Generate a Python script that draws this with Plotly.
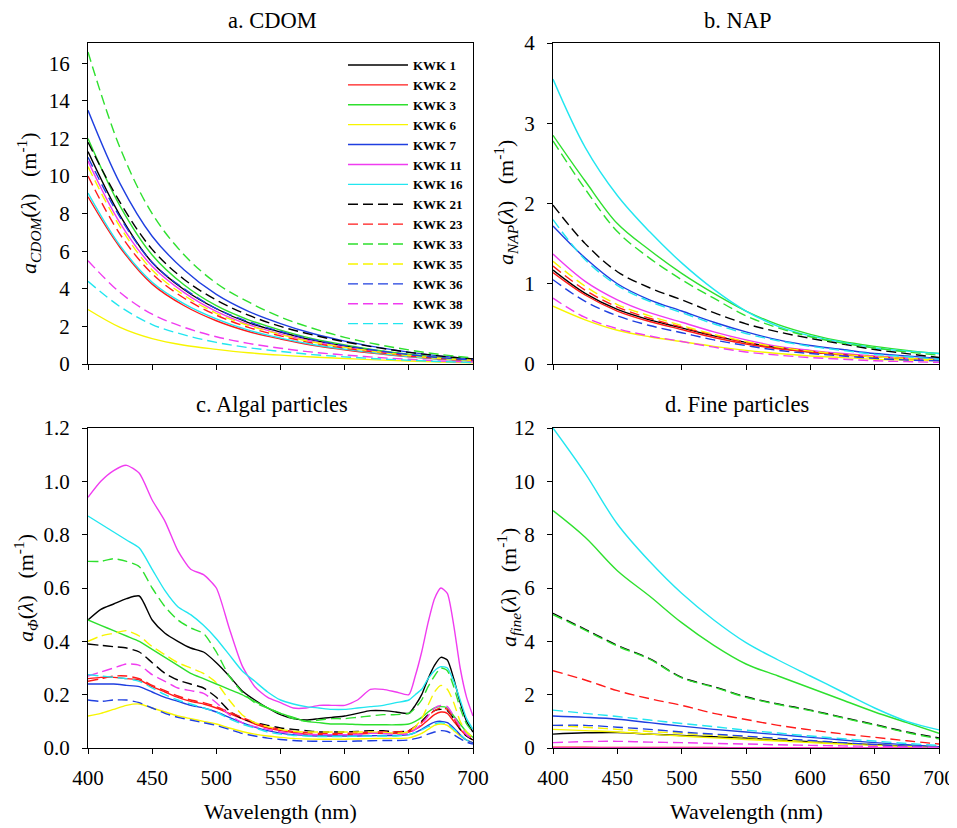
import plotly.graph_objects as go

# ---------------- data ----------------
STATIONS = ["KWK 1", "KWK 2", "KWK 3", "KWK 6", "KWK 7", "KWK 11", "KWK 16",
            "KWK 21", "KWK 23", "KWK 33", "KWK 35", "KWK 36", "KWK 38", "KWK 39"]
COLORS = ["#000000", "#ff1a1a", "#2ee02e", "#f7f500", "#1f3fe0", "#f03cf0", "#22e6f0"] * 2
DASHES = ["solid"] * 7 + ["dash"] * 7

WL = [400, 425, 450, 475, 500, 525, 550, 575, 600, 625, 650, 675, 700]
WL_ALGAL = [400, 410, 420, 430, 440, 450, 460, 470, 480, 490, 500, 510, 520, 530, 540,
            550, 560, 570, 580, 590, 600, 610, 620, 630, 640, 650, 655, 660, 665, 670,
            675, 680, 685, 690, 695, 700]

# a. CDOM absorption (m-1)
cdom = [
    [11.3, 7.9, 5.4, 3.95, 2.94, 2.2, 1.7, 1.27, 0.96, 0.70, 0.49, 0.32, 0.20],
    [8.9, 6.2, 4.25, 3.1, 2.3, 1.73, 1.33, 1.0, 0.76, 0.55, 0.38, 0.25, 0.16],
    [12.0, 8.4, 5.8, 4.2, 3.1, 2.35, 1.8, 1.35, 1.02, 0.74, 0.52, 0.34, 0.22],
    [2.9, 1.95, 1.35, 1.0, 0.78, 0.6, 0.47, 0.37, 0.29, 0.22, 0.16, 0.11, 0.07],
    [13.5, 9.6, 6.8, 5.0, 3.7, 2.8, 2.15, 1.62, 1.22, 0.9, 0.63, 0.42, 0.27],
    [10.8, 7.5, 5.2, 3.8, 2.8, 2.1, 1.6, 1.2, 0.9, 0.66, 0.46, 0.3, 0.19],
    [9.1, 6.3, 4.35, 3.2, 2.4, 1.8, 1.38, 1.04, 0.79, 0.58, 0.4, 0.26, 0.17],
    [11.8, 8.6, 6.1, 4.5, 3.4, 2.6, 2.0, 1.55, 1.18, 0.88, 0.62, 0.42, 0.27],
    [10.0, 6.9, 4.8, 3.5, 2.6, 1.95, 1.5, 1.12, 0.85, 0.62, 0.43, 0.28, 0.18],
    [16.6, 11.5, 8.0, 5.8, 4.3, 3.3, 2.5, 1.9, 1.42, 1.05, 0.75, 0.5, 0.32],
    [10.5, 7.3, 5.0, 3.65, 2.7, 2.05, 1.57, 1.17, 0.89, 0.65, 0.45, 0.29, 0.19],
    [11.0, 7.8, 5.4, 4.0, 2.95, 2.25, 1.73, 1.3, 0.98, 0.72, 0.5, 0.33, 0.21],
    [5.5, 3.8, 2.65, 1.95, 1.45, 1.1, 0.84, 0.63, 0.48, 0.35, 0.25, 0.16, 0.1],
    [4.4, 3.05, 2.1, 1.55, 1.15, 0.87, 0.67, 0.5, 0.38, 0.28, 0.2, 0.13, 0.08],
]

# b. NAP absorption (m-1)
nap = [
    [1.17, 0.88, 0.68, 0.55, 0.45, 0.35, 0.27, 0.2, 0.15, 0.12, 0.09, 0.07, 0.05],
    [1.14, 0.86, 0.66, 0.53, 0.43, 0.33, 0.25, 0.19, 0.15, 0.11, 0.09, 0.07, 0.05],
    [2.85, 2.28, 1.75, 1.42, 1.13, 0.88, 0.66, 0.49, 0.37, 0.28, 0.22, 0.17, 0.13],
    [0.72, 0.55, 0.42, 0.34, 0.28, 0.22, 0.17, 0.13, 0.1, 0.08, 0.06, 0.05, 0.04],
    [1.72, 1.32, 1.0, 0.8, 0.66, 0.52, 0.4, 0.3, 0.23, 0.18, 0.13, 0.1, 0.07],
    [1.37, 1.03, 0.8, 0.64, 0.52, 0.4, 0.3, 0.22, 0.17, 0.13, 0.1, 0.07, 0.05],
    [3.55, 2.7, 2.1, 1.65, 1.26, 0.93, 0.66, 0.47, 0.35, 0.27, 0.2, 0.16, 0.13],
    [1.98, 1.5, 1.15, 0.95, 0.8, 0.64, 0.5, 0.4, 0.32, 0.25, 0.18, 0.13, 0.08],
    [1.22, 0.92, 0.71, 0.57, 0.46, 0.36, 0.27, 0.21, 0.16, 0.12, 0.09, 0.07, 0.05],
    [2.78, 2.18, 1.65, 1.32, 1.05, 0.82, 0.6, 0.45, 0.34, 0.26, 0.2, 0.15, 0.11],
    [1.28, 0.97, 0.74, 0.6, 0.48, 0.37, 0.28, 0.21, 0.16, 0.12, 0.09, 0.07, 0.05],
    [1.05, 0.78, 0.6, 0.48, 0.39, 0.3, 0.23, 0.17, 0.13, 0.1, 0.07, 0.05, 0.04],
    [0.82, 0.58, 0.44, 0.35, 0.28, 0.21, 0.15, 0.11, 0.08, 0.06, 0.04, 0.03, 0.02],
    [1.8, 1.3, 0.98, 0.78, 0.64, 0.5, 0.38, 0.29, 0.22, 0.17, 0.12, 0.09, 0.06],
]

# c. Algal particle absorption (m-1)
algal = [
    [0.48, 0.52, 0.54, 0.56, 0.57, 0.48, 0.43, 0.40, 0.375, 0.36, 0.32, 0.27, 0.215, 0.18, 0.15,
     0.125, 0.11, 0.105, 0.11, 0.115, 0.12, 0.13, 0.14, 0.14, 0.135, 0.13, 0.16, 0.2, 0.26, 0.31,
     0.34, 0.33, 0.26, 0.17, 0.1, 0.06],
    [0.26, 0.265, 0.265, 0.26, 0.255, 0.23, 0.21, 0.19, 0.175, 0.165, 0.15, 0.13, 0.11, 0.09, 0.075,
     0.065, 0.058, 0.052, 0.05, 0.05, 0.05, 0.052, 0.055, 0.055, 0.055, 0.06, 0.07, 0.085, 0.105, 0.125,
     0.135, 0.13, 0.1, 0.07, 0.045, 0.03],
    [0.48, 0.46, 0.44, 0.42, 0.40, 0.37, 0.34, 0.31, 0.28, 0.26, 0.24, 0.22, 0.2, 0.175, 0.15,
     0.13, 0.115, 0.1, 0.095, 0.09, 0.09, 0.088, 0.087, 0.087, 0.087, 0.09, 0.1, 0.115, 0.135, 0.15,
     0.155, 0.15, 0.12, 0.09, 0.06, 0.04],
    [0.12, 0.13, 0.145, 0.16, 0.165, 0.15, 0.135, 0.12, 0.11, 0.1, 0.09, 0.075, 0.062, 0.052, 0.045,
     0.04, 0.036, 0.034, 0.033, 0.033, 0.033, 0.034, 0.035, 0.036, 0.036, 0.038, 0.045, 0.055, 0.07, 0.085,
     0.09, 0.085, 0.065, 0.045, 0.03, 0.02],
    [0.24, 0.24, 0.24, 0.235, 0.23, 0.21, 0.19, 0.175, 0.16, 0.15, 0.135, 0.115, 0.095, 0.078, 0.065,
     0.056, 0.05, 0.047, 0.045, 0.045, 0.045, 0.045, 0.046, 0.047, 0.047, 0.05, 0.058, 0.07, 0.085, 0.097,
     0.1, 0.095, 0.075, 0.05, 0.03, 0.02],
    [0.94, 1.0, 1.04, 1.06, 1.03, 0.93, 0.85, 0.74, 0.67, 0.65, 0.6, 0.45, 0.31, 0.23, 0.19,
     0.17, 0.15, 0.15, 0.16, 0.16, 0.16, 0.18, 0.22, 0.22, 0.21, 0.2, 0.27, 0.36, 0.47, 0.56,
     0.6, 0.58, 0.46, 0.3, 0.19, 0.12],
    [0.87, 0.84, 0.81, 0.78, 0.75, 0.67, 0.59, 0.53, 0.5, 0.46, 0.41, 0.35, 0.29, 0.25, 0.21,
     0.18, 0.165, 0.155, 0.15, 0.145, 0.145, 0.15, 0.155, 0.16, 0.17, 0.18, 0.2, 0.22, 0.26, 0.29,
     0.305, 0.3, 0.25, 0.18, 0.11, 0.07],
    [0.39, 0.385, 0.38, 0.375, 0.36, 0.32, 0.28, 0.255, 0.24, 0.225, 0.19, 0.14, 0.11, 0.095, 0.085,
     0.075, 0.07, 0.065, 0.06, 0.06, 0.06, 0.062, 0.065, 0.065, 0.06, 0.065, 0.08, 0.1, 0.125, 0.14,
     0.145, 0.14, 0.11, 0.07, 0.045, 0.03],
    [0.25, 0.26, 0.27, 0.27, 0.26, 0.235, 0.215, 0.195, 0.18, 0.17, 0.155, 0.135, 0.115, 0.095, 0.08,
     0.07, 0.062, 0.058, 0.055, 0.055, 0.055, 0.057, 0.06, 0.06, 0.06, 0.065, 0.08, 0.095, 0.12, 0.14,
     0.15, 0.145, 0.11, 0.075, 0.05, 0.035],
    [0.70, 0.70, 0.71, 0.70, 0.68, 0.6, 0.53, 0.48, 0.45, 0.43, 0.36, 0.27, 0.21, 0.17, 0.15,
     0.13, 0.11, 0.1, 0.105, 0.11, 0.11, 0.115, 0.12, 0.125, 0.125, 0.13, 0.15, 0.18, 0.23, 0.27,
     0.3, 0.29, 0.23, 0.15, 0.09, 0.06],
    [0.40, 0.42, 0.43, 0.44, 0.42, 0.38, 0.35, 0.32, 0.3, 0.28, 0.245, 0.18, 0.125, 0.095, 0.08,
     0.07, 0.063, 0.06, 0.06, 0.06, 0.06, 0.06, 0.06, 0.058, 0.055, 0.06, 0.08, 0.11, 0.16, 0.21,
     0.235, 0.22, 0.17, 0.1, 0.06, 0.04],
    [0.18, 0.175, 0.18, 0.18, 0.17, 0.15, 0.13, 0.115, 0.105, 0.095, 0.085, 0.07, 0.055, 0.045, 0.037,
     0.032, 0.028, 0.026, 0.025, 0.025, 0.025, 0.026, 0.027, 0.028, 0.028, 0.03, 0.035, 0.042, 0.052, 0.06,
     0.065, 0.062, 0.05, 0.035, 0.022, 0.015],
    [0.27, 0.285, 0.3, 0.315, 0.31, 0.275, 0.25, 0.225, 0.215, 0.205, 0.17, 0.125, 0.095, 0.08, 0.07,
     0.06, 0.055, 0.05, 0.05, 0.05, 0.05, 0.05, 0.055, 0.055, 0.05, 0.055, 0.07, 0.09, 0.12, 0.15,
     0.16, 0.155, 0.12, 0.08, 0.05, 0.03],
    [0.275, 0.27, 0.265, 0.26, 0.25, 0.225, 0.2, 0.18, 0.165, 0.15, 0.135, 0.11, 0.09, 0.075, 0.06,
     0.052, 0.047, 0.045, 0.043, 0.043, 0.043, 0.044, 0.045, 0.045, 0.045, 0.05, 0.058, 0.068, 0.08, 0.09,
     0.095, 0.09, 0.07, 0.05, 0.03, 0.02],
]

# d. Fine particle absorption (m-1)
fine = [
    [0.52, 0.57, 0.58, 0.52, 0.47, 0.42, 0.37, 0.3, 0.24, 0.18, 0.12, 0.07, 0.03],
    [0.03, 0.03, 0.02, 0.02, 0.02, 0.02, 0.01, 0.01, 0.01, 0.01, 0.0, 0.0, 0.0],
    [8.9, 7.9, 6.65, 5.7, 4.7, 3.85, 3.15, 2.7, 2.25, 1.8, 1.35, 0.95, 0.55],
    [0.7, 0.65, 0.6, 0.52, 0.45, 0.38, 0.32, 0.26, 0.2, 0.15, 0.1, 0.06, 0.03],
    [1.2, 1.15, 1.08, 0.95, 0.82, 0.7, 0.6, 0.5, 0.4, 0.3, 0.2, 0.12, 0.05],
    [0.0, 0.0, 0.0, 0.0, 0.0, 0.0, 0.0, 0.0, 0.0, 0.0, 0.0, 0.0, 0.0],
    [12.0, 10.3, 8.4, 7.0, 5.8, 4.8, 3.95, 3.3, 2.7, 2.1, 1.5, 1.0, 0.68],
    [5.05, 4.45, 3.85, 3.35, 2.65, 2.3, 1.92, 1.65, 1.42, 1.15, 0.88, 0.6, 0.38],
    [2.9, 2.55, 2.15, 1.85, 1.6, 1.3, 1.07, 0.85, 0.68, 0.53, 0.4, 0.27, 0.15],
    [5.0, 4.42, 3.82, 3.33, 2.63, 2.28, 1.9, 1.63, 1.4, 1.13, 0.86, 0.58, 0.34],
    [0.85, 0.78, 0.7, 0.62, 0.55, 0.47, 0.4, 0.32, 0.25, 0.18, 0.12, 0.07, 0.03],
    [0.85, 0.85, 0.78, 0.7, 0.6, 0.52, 0.44, 0.36, 0.28, 0.2, 0.13, 0.07, 0.03],
    [0.2, 0.24, 0.25, 0.22, 0.2, 0.17, 0.15, 0.12, 0.1, 0.08, 0.06, 0.04, 0.02],
    [1.42, 1.3, 1.18, 1.05, 0.92, 0.8, 0.67, 0.56, 0.45, 0.35, 0.26, 0.17, 0.1],
]

PANEL_TITLES = ["a. CDOM", "b. NAP", "c. Algal particles", "d. Fine particles"]
Y_TITLES = [
    "<i>a</i><sub><i>CDOM</i></sub>(<i>λ</i>)&nbsp;&nbsp;&nbsp;(m<sup>-1</sup>)",
    "<i>a</i><sub><i>NAP</i></sub>(<i>λ</i>)&nbsp;&nbsp;&nbsp;(m<sup>-1</sup>)",
    "<i>a</i><sub><i>Φ</i></sub>(<i>λ</i>)&nbsp;&nbsp;&nbsp;(m<sup>-1</sup>)",
    "<i>a</i><sub><i>fine</i></sub>(<i>λ</i>)&nbsp;&nbsp;&nbsp;(m<sup>-1</sup>)",
]
X_TITLE = "Wavelength (nm)"

# ---------------- figure ----------------
# the page body has an 8 px margin, so the figure is drawn 8 px in from the corner
OFF = 8
W, H = 957 - OFF, 828 - OFF
FONT = "Liberation Serif"

def fx(px):
    return (px - OFF) / W

def fy(py):
    return 1 - (py - OFF) / H

fig = go.Figure()
panels = [(cdom, WL, "x", "y"), (nap, WL, "x2", "y2"),
          (algal, WL_ALGAL, "x3", "y3"), (fine, WL, "x4", "y4")]
for p, (vals, wl, xa, ya) in enumerate(panels):
    for i, name in enumerate(STATIONS):
        fig.add_trace(go.Scatter(
            x=wl, y=vals[i], mode="lines", name=name, legendgroup=name,
            showlegend=(p == 0), xaxis=xa, yaxis=ya,
            line=dict(color=COLORS[i], width=1.4,
                      dash=("10px,5px" if DASHES[i] == "dash" else "solid"),
                      shape="spline", smoothing=(0.6 if p == 2 else 1.0)),
        ))

x_dom_l = [fx(88), fx(473)]
x_dom_r = [fx(553), fx(939)]
y_dom_t = [fy(364), fy(43)]
y_dom_b = [fy(748), fy(428)]

tickfont = dict(family=FONT, size=21, color="black")

def xaxis(domain, anchor, labels):
    return dict(domain=domain, anchor=anchor, range=[400, 700], tick0=400, dtick=50,
                showline=True, linecolor="black", linewidth=1, mirror=True,
                ticks="outside", ticklen=5, tickcolor="black", showgrid=False,
                zeroline=False, showticklabels=labels, tickfont=tickfont,
                ticklabelstandoff=6)

def yaxis(domain, anchor, rng, dtick, fmt=None):
    d = dict(domain=domain, anchor=anchor, range=rng, tick0=0, dtick=dtick,
             showline=True, linecolor="black", linewidth=1, mirror=True,
             ticks="outside", ticklen=5, tickcolor="black", showgrid=False,
             zeroline=False, tickfont=tickfont, ticklabelstandoff=8)
    if fmt:
        d["tickformat"] = fmt
    return d

fig.update_layout(
    width=W, height=H,
    margin=dict(l=0, r=0, t=0, b=0, autoexpand=False),
    paper_bgcolor="white", plot_bgcolor="white",
    font=dict(family=FONT, color="black"),
    xaxis=xaxis(x_dom_l, "y", False),
    xaxis2=xaxis(x_dom_r, "y2", False),
    xaxis3=xaxis(x_dom_l, "y3", True),
    xaxis4=xaxis(x_dom_r, "y4", True),
    yaxis=yaxis(y_dom_t, "x", [0, 17.08], 2),
    yaxis2=yaxis(y_dom_t, "x2", [0, 4], 1),
    yaxis3=yaxis(y_dom_b, "x3", [0, 1.2], 0.2, ".1f"),
    yaxis4=yaxis(y_dom_b, "x4", [0, 12], 2),
    legend=dict(x=fx(343), y=fy(50), xanchor="left", yanchor="top",
                bgcolor="rgba(0,0,0,0)", borderwidth=0, itemwidth=60,
                font=dict(family=FONT, size=13, color="black", weight="bold"),
                tracegroupgap=0),
    showlegend=True,
)

annots = []
title_pos = [(272, 20), (738, 20), (272, 404), (737, 404)]
for t, (px, py) in zip(PANEL_TITLES, title_pos):
    annots.append(dict(text=t, x=fx(px), y=fy(py), xref="paper", yref="paper",
                       xanchor="center", yanchor="middle", showarrow=False,
                       font=dict(family=FONT, size=22.5, color="black")))
ytitle_pos = [(28, 203), (505, 203), (25, 588), (508, 588)]
for t, (px, py) in zip(Y_TITLES, ytitle_pos):
    annots.append(dict(text=t, x=fx(px), y=fy(py), xref="paper", yref="paper",
                       xanchor="center", yanchor="middle", showarrow=False, textangle=-90,
                       font=dict(family=FONT, size=22, color="black")))
for px in (280.5, 746):
    annots.append(dict(text=X_TITLE, x=fx(px), y=fy(811), xref="paper", yref="paper",
                       xanchor="center", yanchor="middle", showarrow=False,
                       font=dict(family=FONT, size=22, color="black")))
fig.update_layout(annotations=annots)

fig.write_html("out.html")
